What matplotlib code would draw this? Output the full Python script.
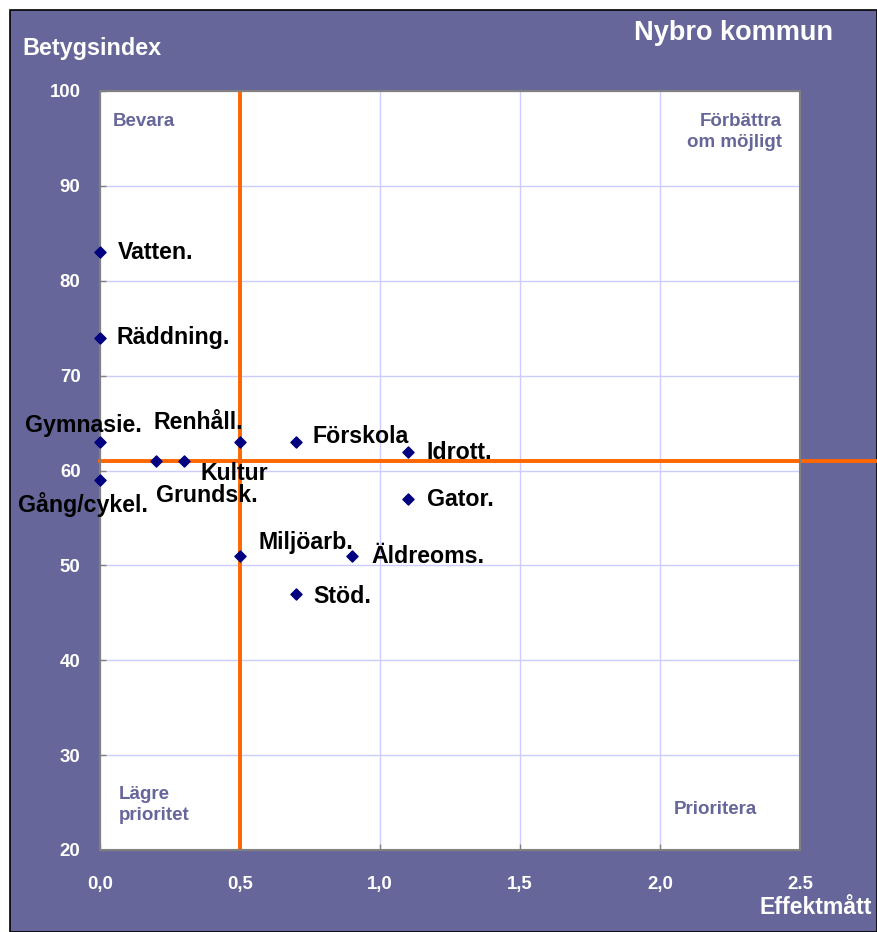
import matplotlib.pyplot as plt
from matplotlib.patches import Rectangle

plt.rcParams['font.family'] = ['Liberation Sans', 'DejaVu Sans']

# data: effektmått (x), betygsindex (y)
names = ['Vatten.', 'Räddning.', 'Gymnasie.', 'Gång/cykel.', 'Grundsk.', 'Kultur',
         'Renhåll.', 'Förskola', 'Idrott.', 'Gator.', 'Miljöarb.', 'Äldreoms.', 'Stöd.']
effekt = [0.0, 0.0, 0.0, 0.0, 0.2, 0.3, 0.5, 0.7, 1.1, 1.1, 0.5, 0.9, 0.7]
betyg = [83, 74, 63, 59, 61, 61, 63, 63, 62, 57, 51, 51, 47]

xticks = [0.0, 0.5, 1.0, 1.5, 2.0, 2.5]
xticklabels = ['0,0', '0,5', '1,0', '1,5', '2,0', '2.5']
yticks = [20, 30, 40, 50, 60, 70, 80, 90, 100]

x_split = 0.5
y_split = 61

# label offsets in pixels (dx, dy, ha)
offsets = [(18, 0, 'left'), (16, 0, 'left'), (-17, 17, 'center'), (-17, -25, 'center'),
           (0, -34, 'left'), (17, -12, 'left'), (3, 20, 'right'), (17, 6, 'left'),
           (19, -1, 'left'), (19, -1, 'left'), (18, 13, 'left'), (19, -1, 'left'),
           (17, -3, 'left')]

bg = '#66669A'
W, H = 877, 932
fig = plt.figure(figsize=(W / 100, H / 100), dpi=100)
fig.patch.set_facecolor('white')
fig.patches.append(Rectangle((10 / W, 0), 1 - 10 / W, 1 - 10 / H, transform=fig.transFigure,
                             facecolor=bg, edgecolor='black', linewidth=1.2, zorder=-10))

ax = fig.add_axes([100 / W, (H - 850) / H, 700 / W, (850 - 91) / H])
ax.set_facecolor('white')
ax.set_xlim(0, 2.5)
ax.set_ylim(20, 100)
ax.set_xticks(xticks)
ax.set_xticklabels(xticklabels)
ax.set_yticks(yticks)
ax.grid(True, color='#CCCCFF', linewidth=1)
ax.set_axisbelow(True)
for s in ax.spines.values():
    s.set_color('#808080')
    s.set_linewidth(1.5)
ax.tick_params(colors='#808080', length=4, width=1, direction='in')
for lab in ax.get_xticklabels() + ax.get_yticklabels():
    lab.set_color('white')
    lab.set_fontweight('bold')
    lab.set_fontsize(13.4)
ax.tick_params(axis='x', pad=19)
ax.tick_params(axis='y', pad=14)

# quadrant lines
ax.axvline(x_split, color='#FF6600', linewidth=2.8, zorder=2)
ax.plot([0, (W - 100) / 280], [y_split, y_split], color='#FF6600', linewidth=2.8,
        clip_on=False, zorder=2)

ax.scatter(effekt, betyg, marker='D', s=32, color='#000080', zorder=4, clip_on=False)
for n, xv, yv, (dx, dy, ha) in zip(names, effekt, betyg, offsets):
    ax.annotate(n, (xv, yv), xytext=(dx, dy), textcoords='offset pixels', ha=ha, va='center',
                fontsize=16.7, fontweight='bold', color='black', zorder=5, annotation_clip=False)

# quadrant texts
qc = '#66669A'
ax.text(13 / 700, 1 - 30 / 759, 'Bevara', transform=ax.transAxes, ha='left', va='center',
        fontsize=13.5, fontweight='bold', color=qc)
ax.text(682 / 700, 1 - 41 / 759, 'Förbättra\nom möjligt', transform=ax.transAxes, ha='right',
        va='center', fontsize=13.5, fontweight='bold', color=qc, linespacing=1.25)
ax.text(19 / 700, 45 / 759, 'Lägre\nprioritet', transform=ax.transAxes, ha='left',
        va='center', fontsize=13.5, fontweight='bold', color=qc, linespacing=1.25)
ax.text(615 / 700, 40 / 759, 'Prioritera', transform=ax.transAxes, ha='center',
        va='center', fontsize=13.5, fontweight='bold', color=qc)

fig.text(733 / W, 1 - 33 / H, 'Nybro kommun', ha='center', va='center', fontsize=19.5,
         fontweight='bold', color='white')
fig.text(22 / W, 1 - 48 / H, 'Betygsindex', ha='left', va='center', fontsize=16.8,
         fontweight='bold', color='white')
fig.text(872 / W, 1 - 908 / H, 'Effektmått', ha='right', va='center', fontsize=16.6,
         fontweight='bold', color='white')

fig.savefig('out.png', dpi=100)
